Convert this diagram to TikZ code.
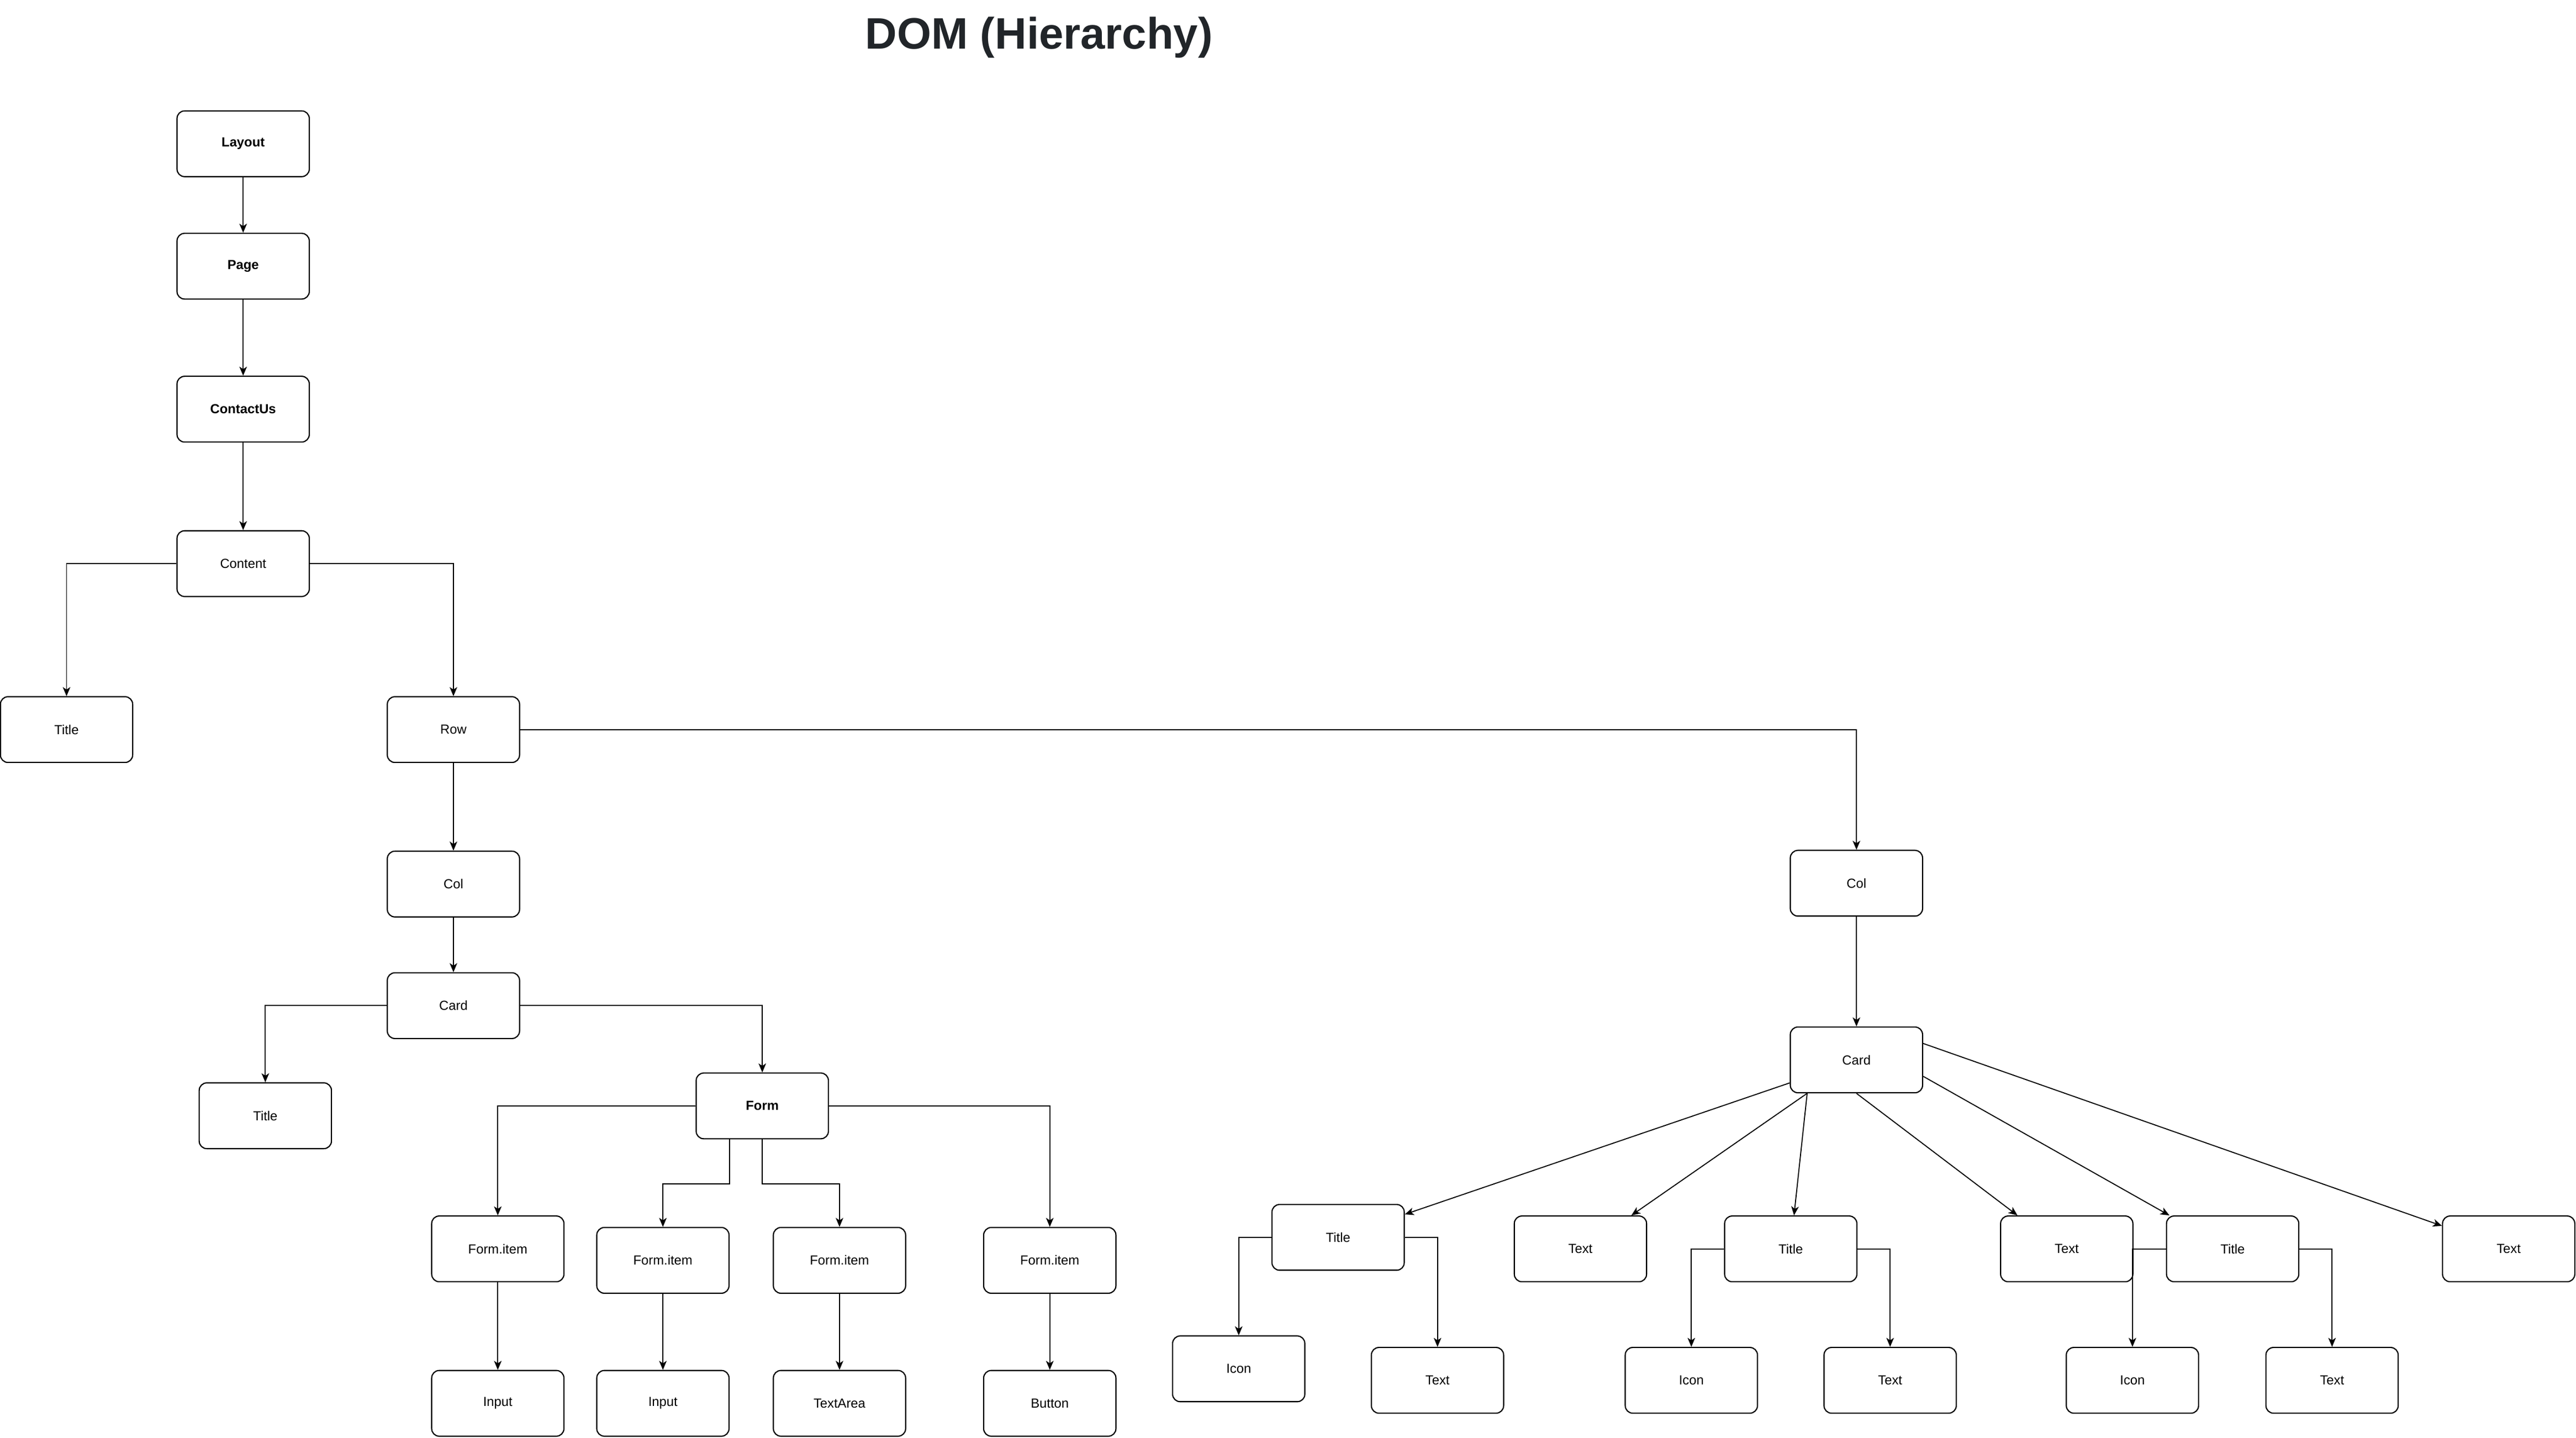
\documentclass[tikz,border=0pt]{standalone}
\usepackage{fontspec}
\setmainfont{Liberation Sans}
\usetikzlibrary{arrows.meta}
\definecolor{titlegray}{HTML}{212529}
\begin{document}
\begin{tikzpicture}[x=1pt,y=-1pt,
  box/.style={draw=black, line width=0.72pt, rounded corners=4.6pt, minimum width=80.5pt, minimum height=40pt, inner sep=0pt, font=\fontsize{8pt}{9pt}\selectfont, fill=white},
  bbox/.style={box, font=\fontsize{8pt}{9pt}\selectfont\bfseries},
  conn/.style={draw=black, line width=0.62pt, -{Stealth[length=5.5pt,width=4.6pt,inset=1.5pt]}}
]
\useasboundingbox (0,0) rectangle (1568,874.8);
\node[anchor=base, font=\fontsize{26.8pt}{30pt}\selectfont\bfseries, text=titlegray] (head) at (632.5,29.6) {DOM (Hierarchy)};

% left column
\node[bbox] (layout) at (148,87.5) {Layout};
\node[bbox] (page) at (148,162) {Page};
\node[bbox] (contact) at (148,249) {ContactUs};
\node[box] (content) at (148,343) {Content};
\node[box] (title1) at (40.5,444) {Title};
\node[box] (row) at (276,444) {Row};
\node[box] (col1) at (276,538) {Col};
\node[box] (card1) at (276,612) {Card};
\node[box] (title2) at (161.5,679) {Title};
\node[bbox] (form) at (464,673) {Form};
\node[box] (fi1) at (303,760) {Form.item};
\node[box] (fi2) at (403.5,767) {Form.item};
\node[box] (fi3) at (511,767) {Form.item};
\node[box] (fi4) at (639,767) {Form.item};
\node[box] (in1) at (303,854) {Input};
\node[box] (in2) at (403.5,854) {Input};
\node[box] (ta) at (511,854) {TextArea};
\node[box] (btn) at (639,854) {Button};

% right part
\node[box] (col2) at (1130,537.5) {Col};
\node[box] (card2) at (1130,645) {Card};
\node[box] (titleA) at (814.5,753) {Title};
\node[box] (textA) at (962,760) {Text};
\node[box] (titleB) at (1090,760) {Title};
\node[box] (textB) at (1258,760) {Text};
\node[box] (titleC) at (1359,760) {Title};
\node[box] (textC) at (1527,760) {Text};
\node[box] (iconA) at (754,833) {Icon};
\node[box] (textA2) at (875,840) {Text};
\node[box] (iconB) at (1029.5,840) {Icon};
\node[box] (textB2) at (1150.5,840) {Text};
\node[box] (iconC) at (1298,840) {Icon};
\node[box] (textC2) at (1419.5,840) {Text};

% connectors
\draw[conn] (layout) -- (page);
\draw[conn] (page) -- (contact);
\draw[conn] (contact) -- (content);
\draw[conn] (content.west) -| (title1.north);
\draw[conn] (content.east) -| (row.north);
\draw[conn] (row) -- (col1);
\draw[conn] (row.east) -| (col2.north);
\draw[conn] (col1) -- (card1);
\draw[conn] (card1.west) -| (title2.north);
\draw[conn] (card1.east) -| (form.north);
\draw[conn] (form.west) -| (fi1.north);
\draw[conn] (form.east) -| (fi4.north);
\draw[conn] ([xshift=-20pt]form.south) -- ++(0,27) -| (fi2.north);
\draw[conn] (form.south) -- ++(0,27) -| (fi3.north);
\draw[conn] (fi1) -- (in1);
\draw[conn] (fi2) -- (in2);
\draw[conn] (fi3) -- (ta);
\draw[conn] (fi4) -- (btn);

\draw[conn] (col2) -- (card2);
\draw[conn] ([yshift=-14pt]card2.west) -- ([yshift=14pt]titleA.east);
\draw[conn] ([xshift=-30pt]card2.south) -- ([xshift=31pt]textA.north);
\draw[conn] ([xshift=-30pt]card2.south) -- ([xshift=2pt]titleB.north);
\draw[conn] (card2.south) -- ([xshift=-30pt]textB.north);
\draw[conn] ([yshift=-10pt]card2.east) -- ([xshift=-38.5pt]titleC.north);
\draw[conn] ([yshift=10pt]card2.east) -- ([yshift=14pt]textC.west);

\draw[conn] (titleA.west) -| (iconA.north);
\draw[conn] (titleA.east) -| (textA2.north);
\draw[conn] (titleB.west) -| (iconB.north);
\draw[conn] (titleB.east) -| (textB2.north);
\draw[conn] (titleC.west) -| (iconC.north);
\draw[conn] (titleC.east) -| (textC2.north);
\end{tikzpicture}
\end{document}
